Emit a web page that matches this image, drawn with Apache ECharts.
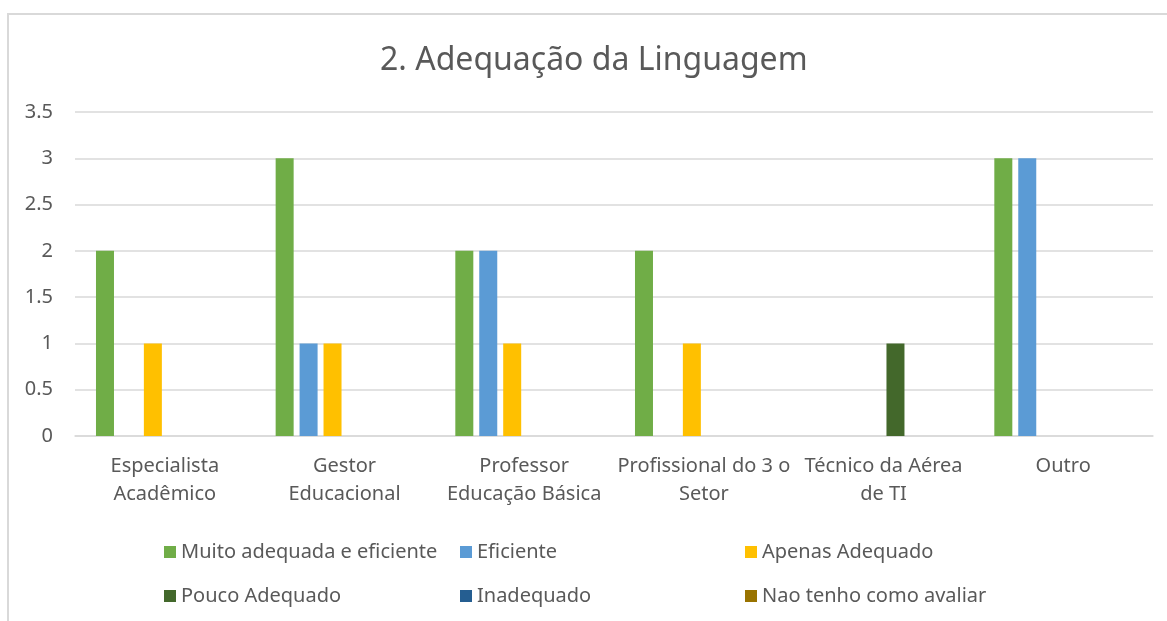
<!DOCTYPE html>
<html>
<head>
<meta charset="utf-8">
<script src="https://cdn.jsdelivr.net/npm/echarts@6/dist/echarts.min.js"></script>
<style>
html, body { margin: 0; padding: 0; background: #fff; }
#chart { width: 1167px; height: 621px; }
</style>
</head>
<body>
<div id="chart"></div>
<script>
var categories = ['Especialista\nAcadêmico', 'Gestor\nEducacional', 'Professor\nEducação Básica',
    'Profissional do 3 o\nSetor', 'Técnico da Aérea\nde TI', 'Outro'];
var muitoAdequada = [2, 3, 2, 2, 0, 3];
var eficiente = [0, 1, 2, 0, 0, 3];
var apenasAdequado = [1, 1, 1, 1, 0, 0];
var poucoAdequado = [0, 0, 0, 0, 1, 0];
var inadequado = [0, 0, 0, 0, 0, 0];
var naoTenho = [0, 0, 0, 0, 0, 0];

var textColor = '#595959';
var fontFamily = '"Noto Sans", sans-serif';

var myChart = echarts.init(document.getElementById('chart'));

function bar(name, data, color) {
    return {
        name: name,
        type: 'bar',
        data: data,
        barWidth: 18,
        barGap: '33%',
        itemStyle: { color: color }
    };
}

function legendCol(left, names) {
    return {
        orient: 'vertical',
        left: left,
        top: 537,
        icon: 'rect',
        itemWidth: 12,
        itemHeight: 12,
        itemGap: 24,
        selectedMode: false,
        data: names,
        textStyle: { color: textColor, fontSize: 20, lineHeight: 20, fontFamily: fontFamily }
    };
}

var option = {
    animation: false,
    title: {
        text: '2. Adequação da Linguagem',
        left: 375,
        top: 40,
        textStyle: { color: textColor, fontSize: 32, fontWeight: 'normal', fontFamily: fontFamily }
    },
    graphic: [{
        type: 'rect',
        shape: { x: 8, y: 14, width: 1300, height: 800 },
        style: { fill: 'none', stroke: '#d9d9d9', lineWidth: 2 },
        silent: true
    }],
    legend: [
        legendCol(159, ['Muito adequada e eficiente', 'Pouco Adequado']),
        legendCol(455, ['Eficiente', 'Inadequado']),
        legendCol(740, ['Apenas Adequado', 'Nao tenho como avaliar'])
    ],
    grid: { left: 75, right: 14, top: 112, bottom: 185 },
    xAxis: {
        type: 'category',
        data: categories,
        axisTick: { show: false },
        axisLine: { lineStyle: { color: '#d9d9d9', width: 1.5 } },
        axisLabel: {
            interval: 0,
            margin: 16,
            color: textColor,
            fontSize: 20,
            lineHeight: 28,
            fontFamily: fontFamily
        }
    },
    yAxis: {
        type: 'value',
        min: 0,
        max: 3.5,
        interval: 0.5,
        axisLine: { show: false },
        axisTick: { show: false },
        splitLine: { lineStyle: { color: '#d9d9d9', width: 1.5 } },
        axisLabel: { color: textColor, fontSize: 20, margin: 22, fontFamily: fontFamily }
    },
    series: [
        bar('Muito adequada e eficiente', muitoAdequada, '#70ad47'),
        bar('Eficiente', eficiente, '#5b9bd5'),
        bar('Apenas Adequado', apenasAdequado, '#ffc000'),
        bar('Pouco Adequado', poucoAdequado, '#43682b'),
        bar('Inadequado', inadequado, '#255e91'),
        bar('Nao tenho como avaliar', naoTenho, '#997300')
    ]
};

myChart.setOption(option);
</script>
</body>
</html>
